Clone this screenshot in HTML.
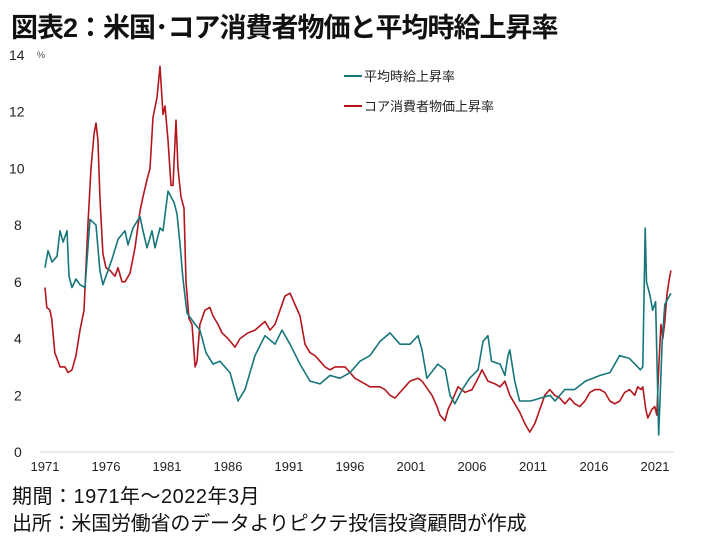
<!DOCTYPE html>
<html><head><meta charset="utf-8">
<style>
body{margin:0;background:#fff;width:726px;height:536px;overflow:hidden;font-family:"Liberation Sans","Noto Sans CJK JP",sans-serif;}
#title{position:absolute;left:11px;top:6px;font-size:27px;font-weight:bold;color:#111;letter-spacing:-1px;white-space:nowrap}
.note{position:absolute;left:12px;font-size:20px;color:#111;white-space:nowrap;letter-spacing:-0.2px}
svg{position:absolute;left:0;top:0}
</style></head><body>
<div id="title">図表2：米国･コア消費者物価と平均時給上昇率</div>
<svg id="chart" width="726" height="536"></svg>
<div class="note" style="top:480px;letter-spacing:0.5px">期間：1971年～2022年3月</div>
<div class="note" style="top:507px">出所：米国労働省のデータよりピクテ投信投資顧問が作成</div>
<script>
const yTicks=[0,2,4,6,8,10,12,14];
const xTickYears=[1971,1976,1981,1986,1991,1996,2001,2006,2011,2016,2021];
const wageYears=[1971.0,1971.25,1971.57,1971.98,1972.23,1972.48,1972.8,1972.97,1973.21,1973.54,1973.87,1974.28,1974.69,1975.18,1975.5,1975.75,1976.08,1976.49,1976.98,1977.56,1977.8,1978.21,1978.79,1979.03,1979.36,1979.77,1980.02,1980.43,1980.67,1981.08,1981.57,1981.82,1982.07,1982.31,1982.64,1983.3,1983.7,1984.2,1984.77,1985.34,1986.16,1986.82,1987.39,1988.21,1989.03,1989.85,1990.43,1991.08,1991.9,1992.72,1993.54,1994.36,1995.18,1996.0,1996.82,1997.64,1998.46,1999.28,2000.1,2000.92,2001.57,2001.9,2002.3,2003.2,2003.8,2004.2,2004.6,2005.2,2005.8,2006.5,2006.9,2007.3,2007.6,2008.3,2008.7,2008.95,2009.1,2009.5,2009.9,2010.8,2011.6,2012.4,2012.8,2013.6,2014.4,2015.3,2016.5,2017.3,2018.1,2018.9,2019.8,2020.0,2020.2,2020.3,2020.6,2020.8,2021.05,2021.3,2021.6,2021.8,2022.05,2022.3];
const wageValues=[6.5,7.1,6.7,6.9,7.8,7.4,7.8,6.2,5.8,6.1,5.9,5.8,8.2,8.0,6.4,5.9,6.3,6.8,7.5,7.8,7.3,7.9,8.3,7.8,7.2,7.8,7.2,7.9,7.8,9.2,8.8,8.4,7.3,6.1,4.9,4.5,4.3,3.5,3.1,3.2,2.8,1.8,2.2,3.4,4.1,3.8,4.3,3.8,3.1,2.5,2.4,2.7,2.6,2.8,3.2,3.4,3.9,4.2,3.8,3.8,4.1,3.6,2.6,3.1,2.9,2.0,1.7,2.2,2.6,2.9,3.9,4.1,3.2,3.1,2.7,3.4,3.6,2.5,1.8,1.8,1.9,2.0,1.8,2.2,2.2,2.5,2.7,2.8,3.4,3.3,2.9,3.0,7.9,6.0,5.5,5.0,5.3,0.6,4.0,5.2,5.4,5.6];
const cpiYears=[1971.0,1971.15,1971.4,1971.55,1971.8,1971.98,1972.23,1972.64,1972.89,1973.21,1973.54,1973.87,1974.2,1974.52,1974.77,1975.02,1975.18,1975.34,1975.5,1975.75,1975.99,1976.33,1976.74,1976.98,1977.31,1977.56,1977.97,1978.38,1978.79,1979.03,1979.36,1979.61,1979.85,1980.18,1980.43,1980.67,1980.84,1981.08,1981.33,1981.49,1981.66,1981.74,1981.9,1982.15,1982.39,1982.56,1982.8,1983.05,1983.3,1983.46,1983.7,1984.11,1984.52,1984.77,1985.18,1985.51,1986.0,1986.57,1986.98,1987.64,1988.21,1989.03,1989.44,1989.85,1990.26,1990.67,1991.08,1991.49,1991.9,1992.31,1992.72,1993.13,1993.54,1993.95,1994.36,1994.77,1995.18,1995.59,1996.0,1996.41,1996.82,1997.23,1997.64,1998.46,1998.87,1999.28,1999.69,2000.1,2000.51,2000.92,2001.57,2001.9,2002.39,2002.72,2003.13,2003.38,2003.79,2004.03,2004.36,2004.85,2005.43,2006.0,2006.49,2006.82,2007.3,2007.89,2008.3,2008.7,2009.1,2009.51,2009.92,2010.33,2010.74,2011.15,2011.56,2011.97,2012.38,2012.79,2013.2,2013.61,2014.02,2014.43,2014.84,2015.25,2015.66,2016.07,2016.48,2016.89,2017.3,2017.7,2018.11,2018.52,2018.93,2019.34,2019.59,2019.84,2020.0,2020.25,2020.41,2020.74,2020.98,2021.15,2021.31,2021.48,2021.64,2021.8,2021.97,2022.13,2022.3];
const cpiValues=[5.8,5.1,5.0,4.7,3.5,3.3,3.0,3.0,2.8,2.9,3.4,4.3,5.0,8.0,10.0,11.2,11.6,11.0,9.0,7.0,6.5,6.4,6.2,6.5,6.0,6.0,6.3,7.2,8.5,9.0,9.6,10.0,11.8,12.5,13.6,11.9,12.2,11.0,9.4,9.4,11.0,11.7,10.0,9.0,8.6,6.0,4.7,4.5,3.0,3.2,4.5,5.0,5.1,4.8,4.5,4.2,4.0,3.7,4.0,4.2,4.3,4.6,4.3,4.5,5.0,5.5,5.6,5.2,4.8,3.8,3.5,3.4,3.2,3.0,2.9,3.0,3.0,3.0,2.8,2.6,2.5,2.4,2.3,2.3,2.2,2.0,1.9,2.1,2.3,2.5,2.6,2.5,2.2,2.0,1.6,1.3,1.1,1.5,1.8,2.3,2.1,2.2,2.6,2.9,2.5,2.4,2.3,2.5,2.0,1.7,1.4,1.0,0.7,1.0,1.5,2.0,2.2,2.0,1.9,1.7,1.9,1.7,1.6,1.8,2.1,2.2,2.2,2.1,1.8,1.7,1.8,2.1,2.2,2.0,2.3,2.2,2.3,1.5,1.2,1.5,1.6,1.3,3.0,4.5,4.0,4.6,5.5,6.0,6.4];
const NS="http://www.w3.org/2000/svg";
const svg=document.getElementById('chart');
const X=y=>45+(y-1971)*12.2;
const Y=v=>452-v*28.36;
function mk(t,a){const e=document.createElementNS(NS,t);for(const k in a)e.setAttribute(k,a[k]);svg.appendChild(e);return e;}
const base=mk('line',{x1:40,x2:674,y1:Y(0),y2:Y(0),stroke:'#d9d9d9','stroke-width':1});


yTicks.forEach(v=>{const t=mk('text',{x:v>=10?9:14,y:Y(v)+5,'font-size':14,fill:'#222','font-family':'Liberation Sans, sans-serif'});t.textContent=v;

});
const pct=mk('text',{x:37,y:Y(14)+3,'font-size':9,fill:'#444'});pct.textContent='%';


xTickYears.forEach(yr=>{const t=mk('text',{x:X(yr),y:471,'font-size':13,fill:'#222','text-anchor':'middle','font-family':'Liberation Sans, sans-serif'});t.textContent=yr;

});
function line(xs,vs,c,name){const d=xs.map((x,i)=>(i?'L':'M')+X(x).toFixed(1)+','+Y(vs[i]).toFixed(1)).join('');
const p=mk('path',{d:d,fill:'none',stroke:c,'stroke-width':1.6,'stroke-linejoin':'round'});

}
line(cpiYears,cpiValues,'#b3161c','core-cpi-line');
line(wageYears,wageValues,'#16767a','wage-line');
const legend=[['平均時給上昇率','#16767a',76],['コア消費者物価上昇率','#b3161c',106]];
legend.forEach(([lab,c,y])=>{const l=mk('line',{x1:344,x2:362,y1:y,y2:y,stroke:c,'stroke-width':2});


const t=mk('text',{x:364,y:y+5,'font-size':13,fill:'#222','font-family':'Liberation Sans, Noto Sans CJK JP, sans-serif'});t.textContent=lab;

});
</script>
</body></html>
